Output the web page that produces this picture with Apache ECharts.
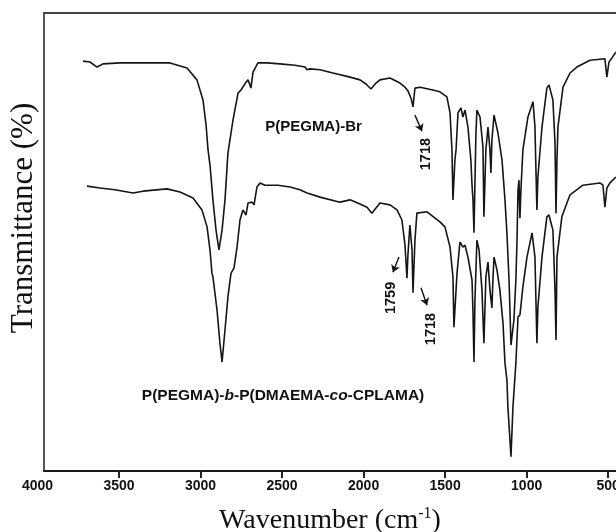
<!DOCTYPE html>
<html>
<head>
<meta charset="utf-8">
<script src="https://cdn.jsdelivr.net/npm/echarts@6/dist/echarts.min.js"></script>
<style>
html,body{margin:0;padding:0;background:#fff;}
#ftir{width:616px;height:532px;}
</style>
</head>
<body>
<div id="ftir"></div>
<script>
// FTIR 谱图数据: 波数 (cm-1) 和 透过率 (任意单位, 从原图读取)
// P(PEGMA)-Br
var brWave = [3721,3678,3635,3598,3494,3310,3187,3083,3022,2985,2966,2954,2942,2924,2905,2887,2868,2850,2832,2801,
  2770,2752,2740,2721,2709,2697,2691,2678,2648,2592,2513,2421,2359,2347,2329,2267,2188,2083,2022,1985,
  1955,1924,1900,1838,1777,1746,1728,1709,1697,1685,1654,1575,1532,1489,1470,1458,1452,1440,1433,1421,
  1403,1391,1378,1360,1342,1335,1329,1323,1311,1305,1286,1268,1262,1250,1237,1225,1219,1213,1200,1176,
  1151,1133,1121,1108,1096,1078,1066,1059,1053,1047,1041,1035,1023,992,961,949,943,937,931,906,
  876,863,839,826,820,814,808,777,734,692,612,520,508,495,477,452];
var brTrans = [89.5,89.3,88.2,88.9,89.1,89.1,89.1,88.0,85.4,81.0,75.5,70.1,66.8,59.2,52.6,48.3,52.6,59.2,69.4,76.6,
  82.5,83.2,83.0,84.9,85.4,84.3,83.6,87.1,89.1,89.1,88.9,88.6,88.2,87.6,87.8,87.6,86.9,86.0,85.4,84.5,
  83.4,84.7,85.4,85.8,84.7,83.8,83.0,81.4,79.5,83.6,83.8,83.2,82.8,81.7,78.2,70.1,59.2,67.9,70.1,78.2,
  79.3,77.3,78.8,75.1,67.9,62.4,59.2,52.0,73.8,78.8,77.3,70.7,55.5,70.1,75.1,70.1,65.1,72.3,77.7,73.8,
  67.9,59.2,52.0,41.7,27.5,33.0,41.7,50.4,61.4,63.5,55.2,61.4,70.1,77.3,80.6,75.1,65.7,57.0,64.2,75.1,
  83.6,84.3,81.0,71.6,56.3,67.9,75.1,83.8,86.9,88.2,89.7,90.0,86.0,89.3,90.2,91.5];

// P(PEGMA)-b-P(DMAEMA-co-CPLAMA)
var copWave = [3696,3617,3525,3414,3353,3206,3126,3046,2991,2960,2942,2930,2924,2899,2881,2868,2850,2832,2813,2795,
  2776,2758,2740,2721,2709,2684,2672,2654,2635,2605,2525,2451,2390,2347,2267,2145,2083,2022,1979,1949,
  1900,1838,1795,1765,1746,1734,1728,1716,1703,1697,1685,1673,1611,1532,1501,1470,1452,1446,1433,1427,
  1409,1391,1378,1360,1335,1329,1323,1317,1305,1292,1274,1262,1250,1237,1225,1213,1207,1200,1182,1164,
  1145,1133,1121,1115,1096,1084,1066,1053,1041,1023,998,967,961,949,943,937,931,906,876,863,
  839,826,820,814,784,753,734,655,551,532,520,508,489,452];
var copTrans = [62.2,61.8,61.4,60.7,61.1,61.6,60.9,59.6,57.0,53.3,48.3,43.2,42.4,35.2,27.9,23.8,30.8,38.0,43.2,44.3,
  48.9,54.8,57.0,55.9,58.5,58.7,58.1,62.0,62.9,62.4,62.4,62.0,61.4,60.7,59.8,58.7,59.2,58.3,57.6,56.3,
  58.5,58.1,57.0,54.8,49.3,42.1,47.2,53.7,48.3,38.9,50.4,56.3,56.6,54.4,53.3,48.9,42.4,31.4,39.5,43.2,
  50.0,48.9,49.3,46.7,41.7,34.5,23.8,37.3,50.4,48.3,39.5,27.9,42.4,45.6,39.5,35.6,41.7,46.7,43.9,39.5,
  32.3,23.6,19.9,14.0,3.1,14.0,23.6,33.6,34.1,40.2,46.7,52.0,52.2,46.7,37.3,27.9,35.8,46.7,55.5,55.9,
  52.6,39.5,28.6,46.7,55.5,58.5,60.3,62.4,62.9,62.4,57.6,61.8,62.9,64.2];

// 横轴刻度
var tickVals = [3500, 3000, 2500, 2000, 1500, 1000, 500];
var firstTick = 4000;

// 标注 (波数, 透过率)
var peakTags = [
  {text: '1718', at: [1617, 69.2]},
  {text: '1759', at: [1832, 37.8]},
  {text: '1718', at: [1587, 31.0]}
];
var arrows = [
  [[1685, 77.7], [1642, 74.2]],
  [[1783, 46.7], [1820, 43.4]],
  [[1648, 40.0], [1611, 36.2]]
];
var nameBr = {text: 'P(PEGMA)-Br', at: [2307, 75.1]};
var nameCop = {at: [2494, 16.4]};

function pairs(w, t){
  var out = [];
  for (var i = 0; i < w.length; i++) {
    out.push([w[i], t[i]]);
  }
  return out;
}

var chart = echarts.init(document.getElementById('ftir'));

var boldSans = {fontFamily: 'Liberation Sans', fontWeight: 'bold', color: '#111'};

var option = {
  animation: false,
  backgroundColor: '#fff',
  grid: {left: 44, right: 0, top: 13, bottom: 61, outerBoundsMode: 'none', containLabel: false},
  xAxis: [{
    type: 'value',
    min: 452,
    max: 3960,
    inverse: true,
    splitLine: {show: false},
    axisLine: {lineStyle: {color: '#1a1a1a', width: 2}},
    axisTick: {show: true, length: 7, inside: false, customValues: tickVals, lineStyle: {color: '#222', width: 2}},
    axisLabel: {
      customValues: tickVals,
      margin: 8,
      formatter: function(v){ return String(v); },
      fontFamily: 'Liberation Sans', fontWeight: 'bold', fontSize: 14, color: '#111'
    },
    name: '{a|Wavenumber (cm}{s|-1}{a|)}',
    nameLocation: 'middle',
    nameGap: 35,
    nameTextStyle: {
      rich: {
        a: {fontFamily: 'Liberation Serif', fontSize: 28, color: '#111', lineHeight: 30},
        s: {fontFamily: 'Liberation Serif', fontSize: 16, color: '#111', verticalAlign: 'top', lineHeight: 30, padding: [0, 0, 12, 0]}
      }
    }
  }, {
    type: 'value',
    position: 'top',
    min: 452,
    max: 3960,
    inverse: true,
    splitLine: {show: false},
    axisLine: {lineStyle: {color: '#444', width: 2}},
    axisTick: {show: false},
    axisLabel: {show: false}
  }],
  yAxis: {
    type: 'value',
    min: 0,
    max: 100,
    splitLine: {show: false},
    axisTick: {show: false},
    axisLabel: {show: false},
    axisLine: {show: true, lineStyle: {color: '#555', width: 2}},
    name: 'Transmittance (%)',
    nameLocation: 'middle',
    nameGap: 5,
    nameRotate: 90,
    nameTextStyle: {fontFamily: 'Liberation Serif', fontSize: 31, color: '#111', padding: [0, 0, 0, 48]}
  },
  series: [{
    name: 'P(PEGMA)-Br',
    type: 'line',
    data: pairs(brWave, brTrans),
    showSymbol: false,
    lineStyle: {color: '#151515', width: 1.6},
    markPoint: {
      symbol: 'circle',
      symbolSize: 0,
      silent: true,
      label: Object.assign({show: true, position: 'inside', fontSize: 14.5}, boldSans),
      data: peakTags.map(function(p){
        return {coord: p.at, label: {formatter: p.text, rotate: 90}};
      }).concat([{coord: nameBr.at, label: {formatter: nameBr.text, fontSize: 15}}])
    },
    markLine: {
      silent: true,
      symbol: ['none', 'arrow'],
      symbolSize: 7,
      label: {show: false},
      lineStyle: {color: '#111', type: 'solid', width: 1.4},
      data: arrows.map(function(a){
        return [{coord: a[0]}, {coord: a[1]}];
      })
    }
  }, {
    name: 'P(PEGMA)-b-P(DMAEMA-co-CPLAMA)',
    type: 'line',
    data: pairs(copWave, copTrans),
    showSymbol: false,
    lineStyle: {color: '#151515', width: 1.6},
    markPoint: {
      symbol: 'circle',
      symbolSize: 0,
      silent: true,
      label: {
        show: true,
        position: 'inside',
        formatter: '{n|P(PEGMA)-}{i|b}{n|-P(DMAEMA-}{i|co}{n|-CPLAMA)}',
        rich: {
          n: {fontFamily: 'Liberation Sans', fontWeight: 'bold', fontSize: 15.5, color: '#111'},
          i: {fontFamily: 'Liberation Sans', fontWeight: 'bold', fontStyle: 'italic', fontSize: 15.5, color: '#111'}
        }
      },
      data: [{coord: nameCop.at}]
    }
  }]
};

chart.setOption(option);

// 4000 标签位于绘图区左边界之外, 按坐标轴比例放置
var x4000 = chart.convertToPixel({xAxisIndex: 0}, firstTick);
var yBase = chart.convertToPixel({yAxisIndex: 0}, 0);
chart.setOption({
  graphic: [{
    type: 'text',
    x: x4000,
    y: yBase + 8,
    style: {text: String(firstTick), font: "bold 14px 'Liberation Sans'", fill: '#111', align: 'center', verticalAlign: 'top'}
  }]
});
</script>
</body>
</html>
